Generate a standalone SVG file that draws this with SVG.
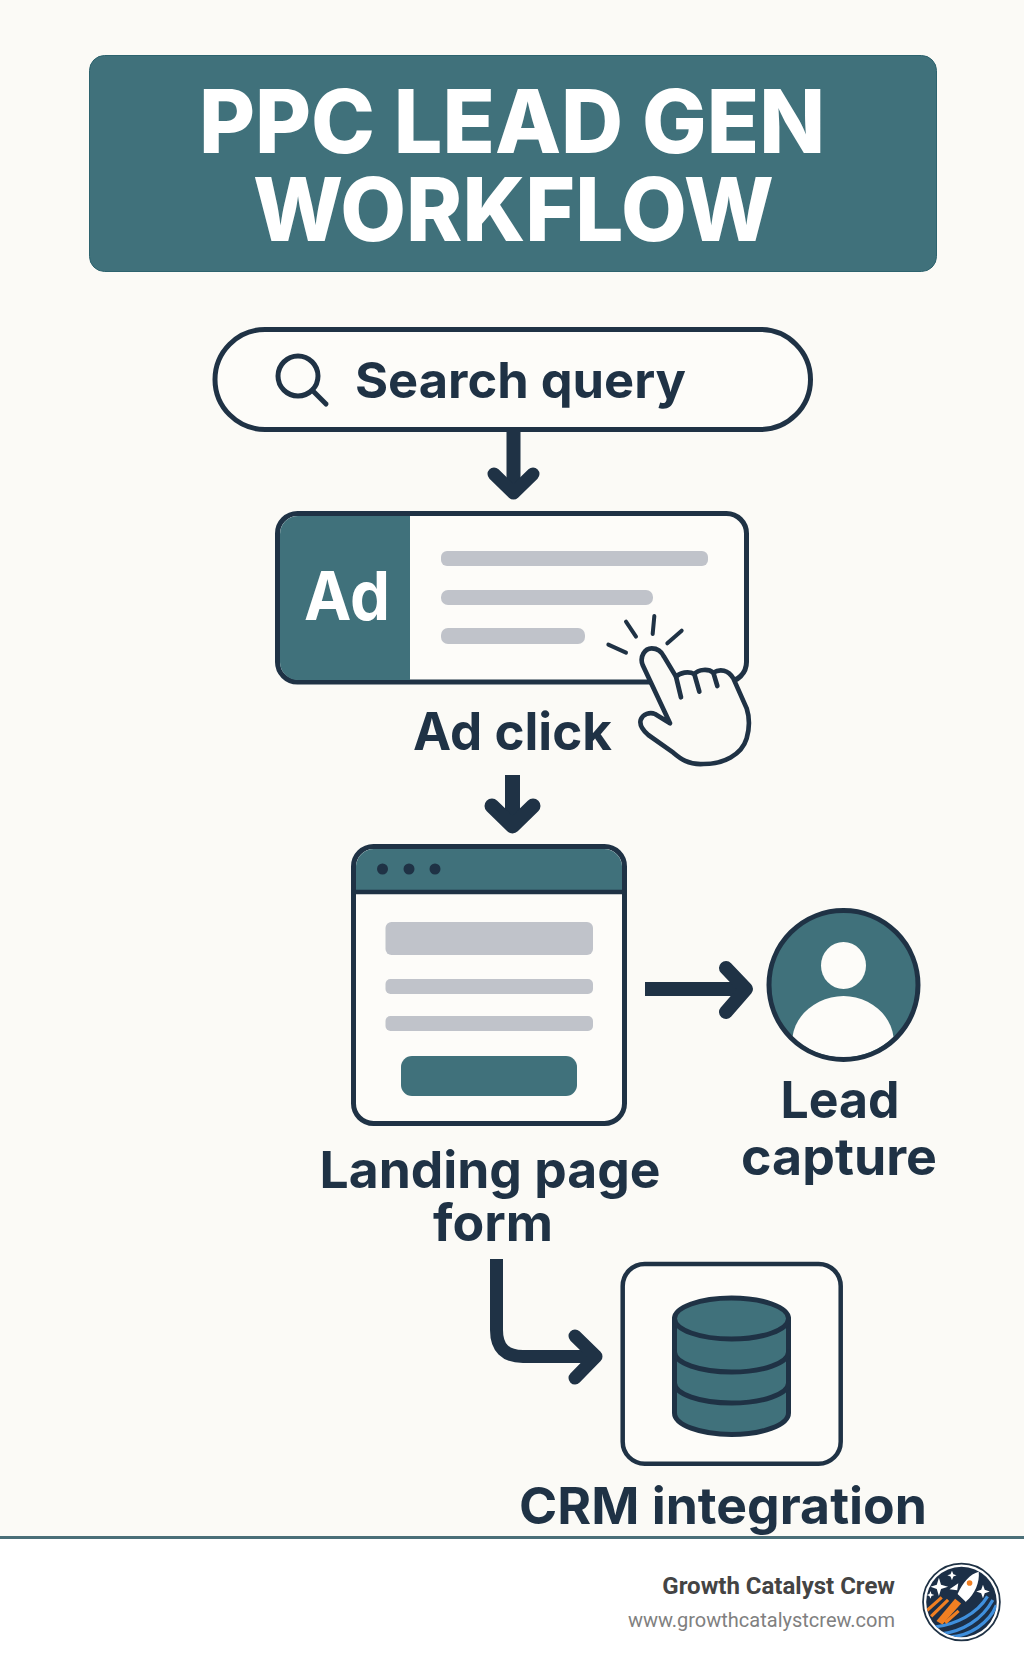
<svg xmlns="http://www.w3.org/2000/svg" width="1024" height="1666" viewBox="0 0 1024 1666">
<style>
.t{font-family:Inter,"Noto Sans","Liberation Sans",sans-serif;font-weight:700;fill:#1f3245}
.w{fill:#fff}
.title{font-family:Inter,"Noto Sans","Liberation Sans",sans-serif;font-weight:800;fill:#fff;font-size:88px}
.o{fill:none;stroke:#1f3245;stroke-linecap:round;stroke-linejoin:round}
.b{fill:none;stroke:#1f3245;stroke-linecap:butt;stroke-linejoin:round}
.box{fill:#fdfcf9;stroke:#1f3245;stroke-width:5}
.teal{fill:#40717b}
.bar{fill:#c0c3ca}
.foot{font-family:Roboto,"Liberation Sans",sans-serif;text-anchor:end}
</style>
<defs><clipPath id="logoClip"><circle cx="146" cy="141" r="100"/></clipPath></defs>
<rect width="1024" height="1666" fill="#fbfaf6"/>
<g id="title">
<rect x="89.500" y="55.500" width="847" height="216" rx="15" class="teal" stroke="#2d636e" stroke-width="1"/>
<text class="title" x="199" y="153" textLength="626" lengthAdjust="spacingAndGlyphs">PPC LEAD GEN</text>
<text class="title" x="253" y="241" textLength="521" lengthAdjust="spacingAndGlyphs">WORKFLOW</text>
</g>
<g id="connectors">
<path class="b" stroke-width="14" d="M513.500 432V490"/>
<path class="o" stroke-width="13" d="M494 474L513.500 493L533 474"/>
<path class="b" stroke-width="15" d="M512.500 775V825"/>
<path class="o" stroke-width="15" d="M492 806L512.500 826L533 806"/>
<path class="b" stroke-width="14" d="M645 989H745"/>
<path class="o" stroke-width="14" d="M726 968L746 989L726 1012"/>
<path class="b" stroke-width="13" d="M496.500 1259V1330Q496.500 1356.500 523 1356.500H596"/>
<path class="o" stroke-width="13" d="M575 1336L596 1356.500L575 1378"/>
</g>
<g id="search-query">
<rect x="215" y="329.500" width="595.500" height="100" rx="50" class="box"/>
<circle cx="298" cy="376" r="20" class="o" stroke-width="5"/>
<path class="o" stroke-width="5" d="M313 391L326 404"/>
<text class="t" x="355" y="398" font-size="50" textLength="331" lengthAdjust="spacingAndGlyphs">Search query</text>
</g>
<g id="ad-click">
<rect x="277.500" y="513.500" width="469" height="168.500" rx="20" class="box"/>
<path class="teal" d="M410 516V680H298A18 18 0 0 1 280 662V534A18 18 0 0 1 298 516Z"/>
<text class="t w" x="304" y="620" font-size="68" textLength="86" lengthAdjust="spacingAndGlyphs">Ad</text>
<rect x="441" y="551" width="267" height="15" rx="6" class="bar"/>
<rect x="441" y="590" width="212" height="15" rx="7" class="bar"/>
<rect x="441" y="628" width="144" height="16" rx="7" class="bar"/>
<g transform="translate(600 610) scale(.33333)">
<path fill="#fbfaf6" stroke="#1f3245" stroke-width="14" stroke-linejoin="round" stroke-linecap="round" d="M210 340L128 165C118 140 135 115 155 115C175 115 185 125 192 140L228 200C240 188 265 182 283 192C295 178 325 175 340 188C360 175 385 180 400 205L440 295C448 320 450 350 440 385C425 435 370 462 310 462C265 465 240 445 220 428L145 375C125 358 118 345 122 330C128 312 150 305 165 312Z"/>
<path class="o" stroke-width="14" d="M228 200L243 262M283 192L298 245M340 188L352 228"/>
<path class="o" stroke-width="12" d="M25 104L78 128M78 35L108 80M163 18L158 72M245 62L202 100"/>
</g>
<text class="t" x="413" y="750" font-size="52" textLength="199" lengthAdjust="spacingAndGlyphs">Ad click</text>
</g>
<g id="landing-page">
<rect x="353.500" y="846.500" width="271" height="277" rx="20" class="box"/>
<path class="teal" d="M356 890V866A18 18 0 0 1 374 849H604A18 18 0 0 1 622 866V890Z"/>
<path class="b" stroke-width="4.500" d="M353 892H625"/>
<circle cx="382.500" cy="869" r="5.500" fill="#1f3245"/>
<circle cx="409" cy="869" r="5.500" fill="#1f3245"/>
<circle cx="435" cy="869" r="5.500" fill="#1f3245"/>
<rect x="385.500" y="922" width="207.500" height="33" rx="6" class="bar"/>
<rect x="385.500" y="979" width="207.500" height="15" rx="5" class="bar"/>
<rect x="385.500" y="1016" width="207.500" height="15" rx="5" class="bar"/>
<rect x="401" y="1056" width="176" height="40" rx="11" class="teal"/>
<text class="t" x="319.500" y="1188" font-size="51" textLength="341" lengthAdjust="spacingAndGlyphs">Landing page</text>
<text class="t" x="433" y="1241" font-size="51" textLength="120" lengthAdjust="spacingAndGlyphs">form</text>
</g>
<g id="lead-capture">
<circle cx="843.500" cy="985" r="74.500" class="teal"/>
<ellipse cx="843.500" cy="965.500" rx="22.500" ry="23.500" fill="#fdfcf9"/>
<path fill="#fdfcf9" d="M792.500 1037C795.500 1012 820.500 996 843.500 996C866.500 996 890.500 1012 893.500 1037A73 73 0 0 1 792.500 1037Z"/>
<circle cx="843.500" cy="985" r="74.500" class="o" stroke-width="5"/>
<text class="t" x="780.500" y="1118" font-size="51" textLength="119" lengthAdjust="spacingAndGlyphs">Lead</text>
<text class="t" x="741" y="1175" font-size="51" textLength="196" lengthAdjust="spacingAndGlyphs">capture</text>
</g>
<g id="crm-integration">
<rect x="622.700" y="1264" width="218" height="199.700" rx="22" class="box" style="stroke-width:4.500"/>
<path class="teal" d="M674.500 1318.500A57 20.500 0 0 1 788.500 1318.500V1413A57 21.500 0 0 1 674.500 1413Z"/>
<g class="o" stroke-width="5">
<path d="M674.500 1318.500V1413A57 21.500 0 0 0 788.500 1413V1318.500"/>
<ellipse cx="731.500" cy="1318.500" rx="57" ry="20.500"/>
<path d="M674.500 1352A57 20 0 0 0 788.500 1352M674.500 1383A57 20 0 0 0 788.500 1383"/>
</g>
<text class="t" x="519" y="1524" font-size="51" textLength="408" lengthAdjust="spacingAndGlyphs">CRM integration</text>
</g>
<g id="footer">
<rect y="1539" width="1024" height="127" fill="#fff"/>
<rect y="1536" width="1024" height="3" fill="#4a6f78"/>
<text class="foot" x="895" y="1594" font-size="24" font-weight="700" fill="#444">Growth Catalyst Crew</text>
<text class="foot" x="895" y="1627" font-size="20" fill="#808080">www.growthcatalystcrew.com</text>
<g id="logo" transform="translate(910 1552.300) scale(.3525)">
<circle cx="146" cy="141" r="109" fill="#fff" stroke="#1f3245" stroke-width="5"/>
<circle cx="146" cy="141" r="100" fill="#1c2f47"/>
<g clip-path="url(#logoClip)">
<path fill="none" stroke="#3f8fdc" stroke-width="9" d="M70 212C130 205 190 175 220 125M85 232C150 225 205 190 235 135M112 240C170 238 225 200 245 150"/>
<path fill="none" stroke="#f07f22" stroke-width="9" d="M48 165L90 128M60 182L108 135M100 200L138 166"/>
<path fill="#f07f22" d="M75 195L128 132L145 145L92 205Z"/>
</g>
<path fill="#fff" d="M195 55C170 62 150 85 135 118L158 140C185 118 198 85 195 55ZM137 88L112 105L134 108ZM160 118L158 142L170 124Z"/>
<circle cx="169" cy="87" r="8" fill="#f07f22"/>
<path fill="#fff" d="M82 72L88 92L108 98L88 104L82 124L76 104L58 98L76 92ZM207 92L212 106L226 111L212 116L207 130L202 116L188 111L202 106ZM119 52L123 62L132 65L123 69L119 79L115 69L106 65L115 62ZM58 110L61 118L69 121L61 124L58 132L55 124L47 121L55 118Z"/>
</g>
</g>
</svg>
